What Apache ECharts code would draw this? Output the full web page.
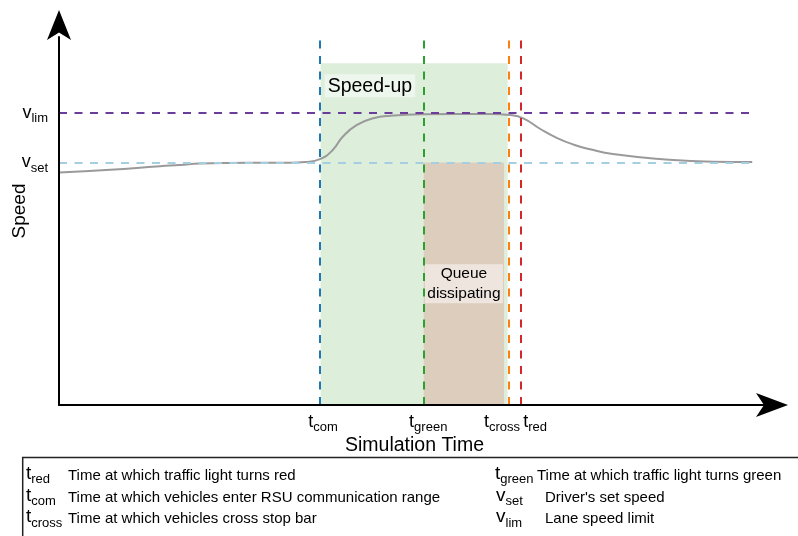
<!DOCTYPE html>
<html><head><meta charset="utf-8">
<script src="https://cdn.jsdelivr.net/npm/echarts@6/dist/echarts.min.js"></script>
<style>html,body{margin:0;padding:0;background:#fff}#c{width:798px;height:536px}</style>
</head><body><div id="c"></div>
<script>
// ---- data ----
const curveX = [0, 7.2, 14.2, 17.0, 19.8, 26.9, 32.5, 34.6, 36.7, 38.5, 39.9, 41.9, 44.2, 46.6, 51.2, 60.6, 63.4, 65.3, 67.7, 70.0, 72.3, 74.7, 77.9, 84.9, 92.0, 97.5];
const curveY = [63.2, 63.9, 64.9, 65.2, 65.6, 65.8, 65.8, 66.0, 66.8, 69.3, 72.9, 76.1, 77.9, 78.6, 79.0, 79.1, 78.8, 77.9, 75.0, 72.6, 70.8, 69.5, 68.2, 66.8, 66.1, 66.0];
const eventNames = ['com', 'green', 'cross', 'red'];
const eventTimes = [36.7, 51.3, 63.3, 65.0];
const speedNames = ['set', 'lim'];
const speedValues = [65.9, 79.3];
const speedUpSpan = [36.8, 63.1];
const speedUpTop = 92.9;
const queueSpan = [51.3, 62.6];
const queueTop = 65.9;
const horizEnd = 97.5;
const legendSymbols = ['t', 't', 't', 't', 'v', 'v'];
const legendSubs = ['red', 'com', 'cross', 'green', 'set', 'lim'];
const legendTexts = ['Time at which traffic light turns red', 'Time at which vehicles enter RSU communication range', 'Time at which vehicles cross stop bar', 'Time at which traffic light turns green', "Driver's set speed", 'Lane speed limit'];

// ---- layout / style ----
const FONT = '"Liberation Sans", Arial, Helvetica, sans-serif';
const eventColors = ['#1f77b4', '#2ca02c', '#ff7f0e', '#d62728'];
const speedColors = ['#a6cee3', '#6a3d9a'];
const eventLabelShift = [6, 9, -14, 28];
const legendPos = [[26, 68, 475.5], [26, 68, 497.5], [26, 68, 519], [495, 537, 475.5], [496, 545, 497.5], [496, 545, 519]];
const DASH = [8, 7.5];

function xRichFor(i) {
  const sh = eventLabelShift[i];
  return {
    m: {fontSize: 18, lineHeight: 18, verticalAlign: 'top', color: '#000', fontFamily: FONT, padding: [0, 0, 0, sh > 0 ? sh : 0]},
    s: {fontSize: 13, lineHeight: 13, verticalAlign: 'top', color: '#000', fontFamily: FONT, padding: [8, sh < 0 ? -sh : 0, 0, 0]}
  };
}
function makeXAxis(i, withLine) {
  return {
    type: 'value', min: 0, max: 100, z: 5, position: 'bottom', gridIndex: 0,
    axisLine: withLine
      ? {show: true, onZero: false, lineStyle: {color: '#000', width: 2}, symbol: ['none', 'arrow'], symbolSize: [18, 32], symbolOffset: [0, 18]}
      : {show: false, onZero: false},
    axisTick: {show: false}, splitLine: {show: false},
    axisLabel: {
      customValues: [eventTimes[i]], margin: 8, rich: xRichFor(i), hideOverlap: false,
      formatter: function () { return '{m|t}{s|' + eventNames[i] + '}'; }
    },
    name: withLine ? 'Simulation Time' : '', nameLocation: 'middle', nameGap: 31, nameMoveOverlap: false,
    nameTextStyle: {fontSize: 19.5, color: '#000', fontFamily: FONT}
  };
}
const yRich = {
  m: {fontSize: 18, lineHeight: 18, verticalAlign: 'top', color: '#000', fontFamily: FONT},
  s: {fontSize: 13, lineHeight: 13, verticalAlign: 'top', color: '#000', fontFamily: FONT, padding: [8, 0, 0, 0]}
};

const markLines = [];
eventTimes.forEach((t, i) => {
  markLines.push({xAxis: t, lineStyle: {color: eventColors[i], type: DASH, width: 2}});
});
speedValues.forEach((v, i) => {
  markLines.push([{coord: [0, v], lineStyle: {color: speedColors[i], type: DASH, width: 2}}, {coord: [horizEnd, v]}]);
});

const graphics = [{
  type: 'polyline', silent: true,
  shape: {points: [[22.7, 540], [22.7, 457.5], [800, 457.5]]},
  style: {stroke: '#222', lineWidth: 1.5, fill: null}
}];
legendSymbols.forEach((sym, i) => {
  const p = legendPos[i];
  graphics.push({
    type: 'text', x: p[0], y: p[2] - 2, silent: true,
    style: {
      text: '{m|' + sym + '}{s|' + legendSubs[i] + '}', verticalAlign: 'middle',
      rich: {
        m: {fontSize: 19, lineHeight: 19, verticalAlign: 'top', fill: '#000', fontFamily: FONT},
        s: {fontSize: 13, lineHeight: 14, verticalAlign: 'top', fill: '#000', fontFamily: FONT, padding: [9, 0, 0, 0]}
      }
    }
  });
  graphics.push({
    type: 'text', x: p[1], y: p[2], silent: true,
    style: {text: legendTexts[i], fontSize: 15, fontFamily: FONT, fill: '#000', verticalAlign: 'middle'}
  });
});

const chart = echarts.init(document.getElementById('c'));
chart.setOption({
  animation: false,
  backgroundColor: '#fff',
  grid: {left: 59, right: 28, top: 37, bottom: 131, containLabel: false, outerBoundsMode: 'none'},
  xAxis: eventTimes.map((t, i) => makeXAxis(i, i === 0)),
  yAxis: {
    type: 'value', min: 0, max: 100, z: 5,
    axisLine: {show: true, onZero: false, lineStyle: {color: '#000', width: 2}, symbol: ['none', 'arrow'], symbolSize: [18, 30], symbolOffset: [0, 27]},
    axisTick: {show: false}, splitLine: {show: false},
    axisLabel: {
      customValues: speedValues, margin: 11, rich: yRich, hideOverlap: false,
      formatter: function (val) {
        const i = speedValues.findIndex(v => Math.abs(v - val) < 1e-6);
        return i < 0 ? '' : '{m|v}{s|' + speedNames[i] + '}';
      }
    },
    name: 'Speed', nameLocation: 'middle', nameGap: 30, nameRotate: 90, nameMoveOverlap: false,
    nameTextStyle: {fontSize: 19, color: '#000', fontFamily: FONT, padding: [0, 0, 0, 20]}
  },
  series: [{
    type: 'line', xAxisIndex: 0,
    data: curveX.map((x, i) => [x, curveY[i]]),
    showSymbol: false, smooth: 0.5,
    lineStyle: {color: '#9a9a9a', width: 2},
    silent: true,
    markArea: {
      silent: true,
      data: [
        [{xAxis: speedUpSpan[0], yAxis: speedUpTop, itemStyle: {color: '#ddeedb'},
          label: {show: true, position: [4, 11], formatter: 'Speed-up', fontSize: 19.5, color: '#000', fontFamily: FONT,
            backgroundColor: 'rgba(255,255,255,0.5)', padding: [2, 3, 1, 3]}},
         {xAxis: speedUpSpan[1], yAxis: 0}],
        [{xAxis: queueSpan[0], yAxis: queueTop, itemStyle: {color: '#ddcdbc'},
          label: {show: true, position: 'inside', formatter: 'Queue\ndissipating', fontSize: 15.5, lineHeight: 19.5, color: '#000', fontFamily: FONT,
            align: 'center', width: 78, backgroundColor: 'rgba(255,255,255,0.5)', padding: [0, 0]}},
         {xAxis: queueSpan[1], yAxis: 0}]
      ]
    },
    markLine: {
      silent: true, symbol: ['none', 'none'], label: {show: false},
      data: markLines
    }
  }],
  graphic: graphics
});
</script>
</body></html>
